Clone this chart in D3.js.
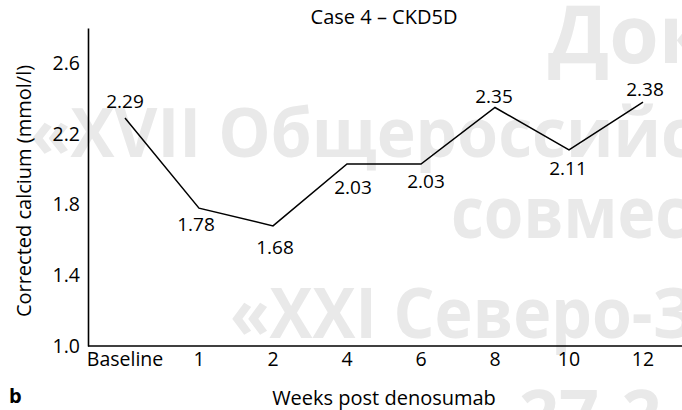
<!DOCTYPE html>
<html>
<head>
<meta charset="utf-8">
<script src="https://cdn.jsdelivr.net/npm/d3@7"></script>
<style>
  html, body { margin: 0; padding: 0; background: #fff; }
  svg { display: block; }
  text { font-family: "Open Sans", "Noto Sans", sans-serif; }
</style>
</head>
<body>
<svg id="chart" width="682" height="410"></svg>
<script>
// ---- data ----
const categories = ["Baseline", "1", "2", "4", "6", "8", "10", "12"];
const calcium = [2.29, 1.78, 1.68, 2.03, 2.03, 2.35, 2.11, 2.38];
const yTicks = [1.0, 1.4, 1.8, 2.2, 2.6];
const chartTitle = "Case 4 \u2013 CKD5D";
const xTitle = "Weeks post denosumab";
const yTitle = "Corrected calcium (mmol/l)";
const panelLetter = "b";
const watermarkLines = ["\u0414\u043e\u043a", "\u00abXVII \u041e\u0431\u0449\u0435\u0440\u043e\u0441\u0441\u0438\u0439\u0441\u043a", "\u0441\u043e\u0432\u043c\u0435\u0441", "\u00abXXI \u0421\u0435\u0432\u0435\u0440\u043e-\u0417", "27-2"];

// ---- layout (not data) ----
const labelOffsets = [[0,-17],[-3,16],[2,21],[6,23],[5,17],[-1,-12],[-1,18],[2,-13]];
// x, baseline y, font size, horizontal scale
const wmLayout = [[548,63,80,1],[30,157,68,0.97],[451,238,71,0.9],[230,338,70,0.92],[519,440,70,1]];

const svg = d3.select("#chart");
const plot = { left: 88, right: 680, top: 28, bottom: 346 };

// watermark
svg.append("g").selectAll("text").data(watermarkLines).join("text")
  .attr("transform", (d,i) => `translate(${wmLayout[i][0]},${wmLayout[i][1]}) scale(${wmLayout[i][3]},1)`)
  .attr("font-size", (d,i) => wmLayout[i][2])
  .attr("font-weight", 700)
  .attr("fill", "#e9e9e9")
  .text(d => d);

const x = d3.scaleBand().domain(categories).range([plot.left, plot.right]);
const y = d3.scaleLinear().domain([1.0, 2.8]).range([plot.bottom, plot.top]);

// axes
const yAxis = d3.axisLeft(y).tickValues(yTicks).tickFormat(d3.format(".1f")).tickSize(0).tickPadding(8);
const gy = svg.append("g").attr("transform", `translate(${plot.left},0)`).call(yAxis);
gy.select(".domain").attr("stroke", "#000").attr("stroke-width", 1.6);
gy.selectAll("text").attr("font-size", 19.5).attr("fill", "#000")
  .attr("font-family", "'Open Sans', sans-serif");

const xAxis = d3.axisBottom(x).tickSize(0).tickPadding(6);
const gx = svg.append("g").attr("transform", `translate(0,${plot.bottom})`).call(xAxis);
gx.select(".domain").attr("d", `M${plot.left},0H682`).attr("stroke", "#000").attr("stroke-width", 1.6);
gx.selectAll("text").attr("font-size", 19.5).attr("fill", "#000")
  .attr("font-family", "'Open Sans', sans-serif");

// line
const line = d3.line()
  .x((d,i) => x(categories[i]) + x.bandwidth()/2)
  .y(d => y(d));
svg.append("path").datum(calcium)
  .attr("d", line)
  .attr("fill", "none")
  .attr("stroke", "#000")
  .attr("stroke-width", 1.5)
  .attr("stroke-linejoin", "miter");

// data labels
svg.append("g").selectAll("text").data(calcium).join("text")
  .attr("x", (d,i) => x(categories[i]) + x.bandwidth()/2 + labelOffsets[i][0])
  .attr("y", (d,i) => y(d) + labelOffsets[i][1])
  .attr("text-anchor", "middle")
  .attr("dominant-baseline", "central")
  .attr("font-size", 19)
  .attr("fill", "#000")
  .text(d => d3.format(".2f")(d));

// titles
svg.append("text").attr("x", (plot.left + plot.right)/2).attr("y", 16)
  .attr("text-anchor", "middle").attr("dominant-baseline", "central")
  .attr("font-size", 20).text(chartTitle);

svg.append("text").attr("x", (plot.left + plot.right)/2).attr("y", 397)
  .attr("text-anchor", "middle").attr("dominant-baseline", "central")
  .attr("font-size", 20).text(xTitle);

svg.append("text")
  .attr("transform", `translate(23,191) rotate(-90)`)
  .attr("text-anchor", "middle").attr("dominant-baseline", "central")
  .attr("font-size", 20).text(yTitle);

svg.append("text").attr("x", 9).attr("y", 403)
  .attr("font-size", 20).attr("font-weight", 700).text(panelLetter);
</script>
</body>
</html>
